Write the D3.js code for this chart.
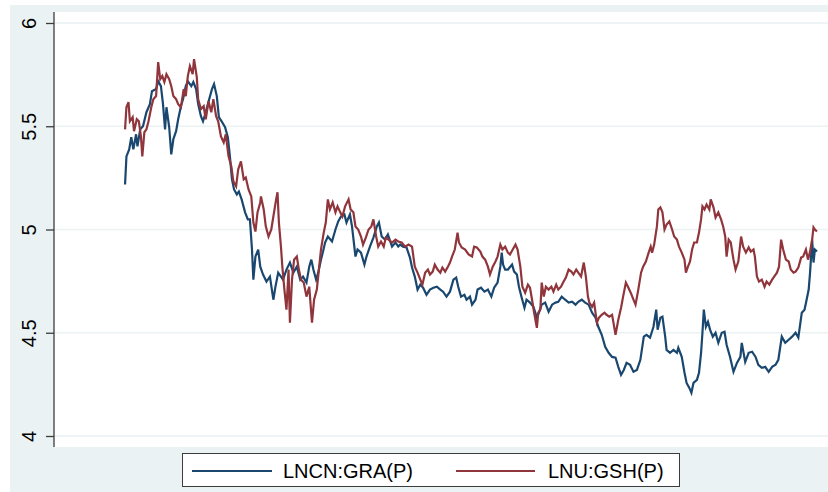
<!DOCTYPE html>
<html>
<head>
<meta charset="utf-8">
<script src="https://cdn.jsdelivr.net/npm/d3@7/dist/d3.min.js"></script>
<style>
  html, body { margin: 0; padding: 0; background: #ffffff; }
  svg { display: block; }
</style>
</head>
<body>
<svg id="chart" width="828" height="492"></svg>
<script>
// ---- data ----
const seriesNames = ["LNCN:GRA(P)", "LNU:GSH(P)"];
const yTicks = [4, 4.5, 5, 5.5, 6];

const blueT = [0,2,6,9,12,16,18,22,26,31,36,39,45,48,52,55,58,60,64,67,70,74,77,81,84,88,91,96,99,103,106,110,113,117,120,126,129,133,136,140,145,149,152,155,158,162,165,169,174,178,181,184,186,189,193,196,200,205,210,215,218,222,229,234,239,244,249,254,258,263,267,270,273,277,280,284,287,290,294,300,305,309,313,318,321,326,329,334,337,342,347,350,355,360,365,368,372,377,381,387,392,396,399,403,408,413,416,420,424,428,432,437,442,447,452,457,461,466,471,476,480,483,487,492,495,500,503,508,511,516,521,526,531,535,540,544,546,548,551,555,561,564,568,571,575,579,582,587,592,597,600,604,609,614,619,624,628,633,638,643,648,653,657,662,667,672,677,682,686,691,696,701,706,711,715,719,723,727,732,737,742,747,752,756,761,766,770,772,776,779,783,785,790,795,800,802,807,811,814,818,821,824,829,832,835,837,839,842,845,848,852,856,860,865,869,872,877,882,887,892,894,899,904,909,914,918,923,928,933,938,943,947,952,957,962,967,972,976,979,981,985,988,991,993,996,998,1000,1003];
const blueV = [5.218,5.354,5.388,5.447,5.388,5.461,5.403,5.485,5.500,5.568,5.607,5.670,5.680,5.718,5.694,5.607,5.485,5.592,5.495,5.364,5.437,5.476,5.534,5.597,5.631,5.694,5.718,5.694,5.714,5.680,5.607,5.549,5.524,5.568,5.607,5.680,5.704,5.646,5.544,5.524,5.495,5.447,5.354,5.243,5.194,5.170,5.184,5.146,5.083,5.049,5.049,4.903,4.757,4.869,4.903,4.820,4.782,4.748,4.772,4.660,4.723,4.791,4.757,4.806,4.840,4.791,4.820,4.757,4.772,4.743,4.820,4.854,4.806,4.757,4.791,4.854,4.893,4.937,4.966,4.942,5.000,5.039,5.063,5.073,5.034,5.073,5.015,4.869,4.903,4.888,4.830,4.869,4.917,4.961,5.015,5.034,4.966,4.951,4.976,4.917,4.937,4.917,4.927,4.917,4.913,4.864,4.816,4.772,4.709,4.733,4.718,4.684,4.709,4.718,4.723,4.709,4.699,4.675,4.699,4.757,4.767,4.723,4.675,4.684,4.660,4.675,4.636,4.660,4.709,4.718,4.699,4.709,4.675,4.718,4.743,4.820,4.888,4.830,4.806,4.806,4.830,4.796,4.782,4.723,4.670,4.621,4.660,4.646,4.626,4.573,4.597,4.636,4.646,4.602,4.636,4.646,4.650,4.675,4.660,4.646,4.650,4.636,4.650,4.660,4.646,4.636,4.597,4.573,4.529,4.490,4.432,4.403,4.383,4.379,4.335,4.296,4.320,4.354,4.345,4.311,4.320,4.369,4.481,4.490,4.476,4.529,4.612,4.515,4.573,4.578,4.481,4.417,4.403,4.417,4.403,4.427,4.383,4.306,4.257,4.233,4.209,4.257,4.272,4.306,4.403,4.500,4.612,4.529,4.553,4.515,4.481,4.500,4.451,4.500,4.505,4.442,4.383,4.311,4.354,4.383,4.451,4.359,4.403,4.408,4.383,4.345,4.330,4.335,4.311,4.335,4.345,4.369,4.481,4.451,4.466,4.481,4.500,4.476,4.549,4.597,4.612,4.660,4.709,4.791,4.951,4.840,4.903,4.893];

const redT = [0,2,5,7,11,13,17,20,23,25,28,31,34,38,41,45,48,51,54,57,60,64,67,70,74,77,81,85,88,91,94,98,100,104,106,110,114,117,121,125,128,132,135,139,143,146,150,154,157,161,164,168,172,175,179,183,186,189,192,196,197,201,204,208,212,215,219,221,223,226,228,231,234,237,239,242,245,249,252,255,259,261,263,267,271,274,278,281,284,288,291,294,297,301,305,308,312,315,319,324,327,331,334,338,342,345,349,353,357,360,364,367,371,375,378,382,387,392,396,401,406,411,416,418,420,424,428,431,435,439,442,446,449,453,457,460,464,468,471,474,478,482,484,488,493,498,503,506,510,515,518,522,526,529,533,537,540,544,547,551,555,558,562,566,569,573,576,580,584,587,590,593,597,599,602,604,607,610,614,618,621,625,628,632,635,639,643,647,650,654,657,661,665,668,671,673,677,680,684,687,691,695,698,702,706,708,711,715,719,722,726,729,733,737,740,744,748,751,755,759,762,764,767,771,773,776,779,782,785,789,793,796,800,803,807,811,813,816,819,822,825,829,832,835,837,840,843,847,849,853,856,860,864,867,870,872,875,878,882,885,889,893,896,900,904,907,911,913,916,919,923,927,930,934,938,941,945,948,951,954,958,962,965,969,972,976,980,983,987,990,993,996,998,1000,1003];
const redV = [5.485,5.592,5.617,5.524,5.544,5.476,5.534,5.524,5.451,5.354,5.471,5.485,5.524,5.592,5.631,5.646,5.811,5.728,5.743,5.714,5.752,5.728,5.694,5.646,5.631,5.607,5.592,5.680,5.646,5.743,5.791,5.752,5.825,5.738,5.631,5.583,5.597,5.534,5.621,5.568,5.631,5.549,5.524,5.451,5.422,5.461,5.354,5.306,5.233,5.209,5.291,5.330,5.243,5.252,5.194,5.160,5.034,4.990,5.083,5.131,5.160,5.097,5.015,4.966,5.000,5.063,5.146,5.180,5.034,4.917,4.820,4.709,4.612,4.806,4.549,4.757,4.854,4.869,4.806,4.757,4.743,4.709,4.675,4.723,4.549,4.660,4.709,4.806,4.903,4.985,5.034,5.146,5.097,5.131,5.083,5.112,5.083,5.063,5.112,5.146,5.097,5.083,5.015,5.000,4.966,4.927,4.961,5.000,5.015,5.049,4.966,4.917,4.942,4.917,4.961,4.951,4.937,4.951,4.942,4.937,4.917,4.927,4.917,4.869,4.820,4.791,4.757,4.733,4.791,4.806,4.782,4.796,4.830,4.806,4.791,4.816,4.796,4.820,4.840,4.869,4.903,4.985,4.937,4.913,4.903,4.879,4.869,4.917,4.913,4.893,4.869,4.854,4.820,4.782,4.820,4.845,4.869,4.927,4.903,4.917,4.888,4.879,4.903,4.927,4.903,4.820,4.723,4.694,4.733,4.718,4.660,4.597,4.524,4.597,4.612,4.743,4.675,4.723,4.709,4.723,4.699,4.733,4.709,4.723,4.743,4.767,4.806,4.796,4.782,4.806,4.791,4.772,4.840,4.772,4.675,4.646,4.626,4.646,4.549,4.573,4.587,4.597,4.587,4.578,4.587,4.549,4.490,4.563,4.621,4.675,4.743,4.723,4.694,4.660,4.636,4.709,4.791,4.820,4.845,4.888,4.917,4.888,4.927,5.015,5.097,5.107,5.083,5.000,5.024,5.039,5.000,4.966,4.951,4.917,4.888,4.854,4.791,4.820,4.845,4.903,4.937,4.937,4.985,5.049,5.112,5.097,5.121,5.097,5.146,5.107,5.058,5.083,5.049,5.015,4.966,4.869,4.951,4.937,4.854,4.806,4.845,4.966,4.917,4.888,4.913,4.893,4.903,4.869,4.772,4.748,4.757,4.723,4.748,4.733,4.757,4.772,4.791,4.820,4.951,4.903,4.854,4.845,4.806,4.791,4.796,4.816,4.864,4.869,4.903,4.854,4.893,4.951,5.010,5.000,4.990];

// ---- layout ----
const W = 828, H = 492;
const plot = { left: 54, right: 828, top: 12, bottom: 447 };
const colors = ["#1a476f", "#90353b"];
const bg = "#eaf2f3";

const svg = d3.select("#chart");

// outer graph region
svg.append("rect").attr("x", 10).attr("y", 5).attr("width", W - 10).attr("height", H - 5).attr("fill", bg);
// plot region
svg.append("rect").attr("x", plot.left).attr("y", plot.top)
  .attr("width", plot.right - plot.left).attr("height", plot.bottom - plot.top).attr("fill", "#ffffff");

const x = d3.scaleLinear().domain([-103, 1019]).range([plot.left, plot.right]);
const y = d3.scaleLinear().domain([4, 6]).range([436, 23]);

// gridlines
svg.append("g").selectAll("line").data(yTicks).join("line")
  .attr("x1", plot.left).attr("x2", plot.right)
  .attr("y1", d => y(d)).attr("y2", d => y(d))
  .attr("stroke", bg).attr("stroke-width", 1.6);

// y axis
const yAxis = d3.axisLeft(y).tickValues(yTicks).tickSize(8).tickPadding(0).tickFormat(d3.format("~g"));
const gy = svg.append("g").attr("transform", `translate(${plot.left},0)`).call(yAxis);
gy.select(".domain").attr("d", `M0,${plot.top}V${plot.bottom}`).attr("stroke", "#3c3c3c").attr("stroke-width", 1.3);
gy.selectAll(".tick line").attr("stroke", "#3c3c3c").attr("stroke-width", 1.3);
gy.selectAll(".tick text")
  .attr("x", null).attr("dy", null)
  .attr("transform", "translate(-18,0) rotate(-90)")
  .attr("text-anchor", "middle")
  .attr("fill", "#000")
  .style("font-family", "Arial, 'Liberation Sans', sans-serif")
  .style("font-size", "20px");

// lines
const line = d3.line().x(d => x(d[0])).y(d => y(d[1]));
const blue = blueT.map((t, i) => [t, blueV[i]]);
const red = redT.map((t, i) => [t, redV[i]]);
[blue, red].forEach((data, i) => {
  svg.append("path").datum(data)
    .attr("d", line)
    .attr("fill", "none")
    .attr("stroke", colors[i])
    .attr("stroke-width", 2.2)
    .attr("stroke-linejoin", "miter");
});

// legend
const lg = svg.append("g");
lg.append("rect").attr("x", 182.5).attr("y", 453.5).attr("width", 497).attr("height", 33)
  .attr("fill", "#ffffff").attr("stroke", "#3c3c3c").attr("stroke-width", 1);
const legendItems = [
  { x1: 192, x2: 272, tx: 283 },
  { x1: 456, x2: 535, tx: 548 }
];
legendItems.forEach((it, i) => {
  lg.append("line").attr("x1", it.x1).attr("x2", it.x2).attr("y1", 471).attr("y2", 471)
    .attr("stroke", colors[i]).attr("stroke-width", 1.8);
  lg.append("text").attr("x", it.tx).attr("y", 478)
    .attr("fill", "#000")
    .style("font-family", "Arial, 'Liberation Sans', sans-serif")
    .style("font-size", "20px")
    .text(seriesNames[i]);
});
</script>
</body>
</html>
